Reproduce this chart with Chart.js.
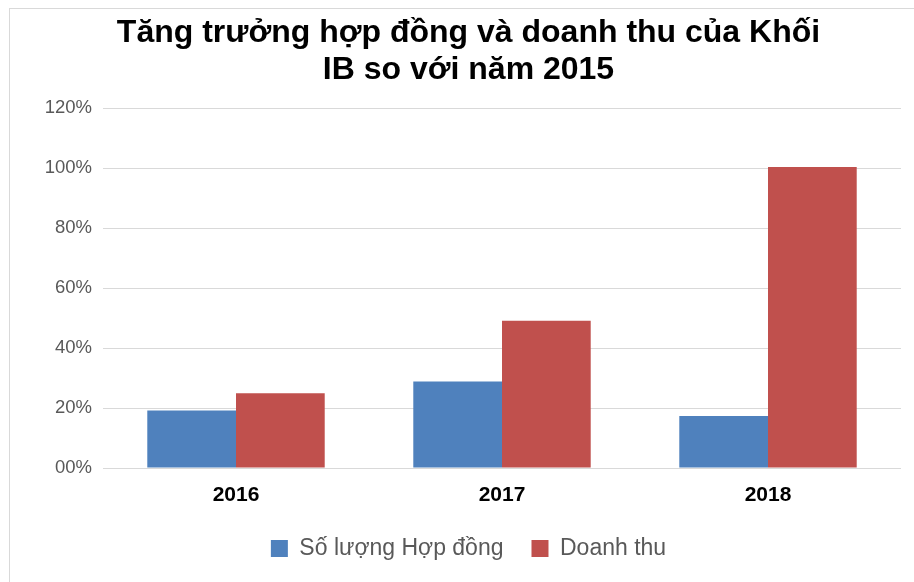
<!DOCTYPE html>
<html>
<head>
<meta charset="utf-8">
<script src="https://cdn.jsdelivr.net/npm/chart.js@4"></script>
<style>
  html, body { margin: 0; padding: 0; background: #fff; }
  #wrap { width: 914px; height: 582px; }
</style>
</head>
<body>
<div id="wrap"><canvas id="ctx" width="914" height="582"></canvas></div>
<script>
const years = ['2016', '2017', '2018'];
const soHopDong = [19.2, 28.8, 17.3];
const doanhThu = [24.9, 49.1, 100.3];
const yTicks = ['00%', '20%', '40%', '60%', '80%', '100%', '120%'];

// light frame around the whole chart
const frame = {
  id: 'frame',
  beforeDraw(chart) {
    const c = chart.ctx;
    c.save();
    c.fillStyle = '#fff';
    c.fillRect(0, 0, chart.width, chart.height);
    c.strokeStyle = '#d9d9d9';
    c.lineWidth = 1;
    c.strokeRect(9.5, 8.5, chart.width, chart.height);
    c.restore();
  }
};

var myChart = new Chart(document.getElementById('ctx'), {
  type: 'bar',
  data: {
    labels: years,
    datasets: [{
      label: 'Số lượng Hợp đồng',
      data: soHopDong,
      backgroundColor: '#4F81BD',
      categoryPercentage: 0.667,
      barPercentage: 1
    }, {
      label: 'Doanh thu',
      data: doanhThu,
      backgroundColor: '#C0504D',
      categoryPercentage: 0.667,
      barPercentage: 1
    }]
  },
  options: {
    responsive: false,
    animation: false,
    layout: { padding: { left: 36, right: 13, top: 15, bottom: 12 } },
    plugins: {
      title: {
        display: true,
        text: ['Tăng trưởng hợp đồng và doanh thu của Khối', 'IB so với năm 2015'],
        color: '#000',
        font: { family: 'Liberation Sans, Arial, sans-serif', size: 32, weight: 'bold', lineHeight: 1.15 },
        padding: { top: 0, bottom: 19.4 }
      },
      legend: {
        position: 'bottom',
        labels: {
          color: '#595959',
          font: { family: 'Liberation Sans, Arial, sans-serif', size: 23 },
          boxWidth: 17,
          boxHeight: 17,
          padding: 28
        }
      },
      tooltip: { enabled: false }
    },
    scales: {
      x: {
        afterFit(scale) { scale.height = 41; },
        grid: { display: false, drawTicks: false },
        border: { display: false },
        ticks: {
          color: '#000',
          font: { family: 'Liberation Sans, Arial, sans-serif', size: 21, weight: 'bold' },
          padding: 15
        }
      },
      y: {
        min: 0,
        max: 120,
        afterFit(scale) { scale.width = 67; },
        border: { display: false },
        grid: { color: '#d9d9d9', drawTicks: false },
        ticks: {
          stepSize: 20,
          color: '#595959',
          padding: 11,
          font: { family: 'Liberation Sans, Arial, sans-serif', size: 18.5 },
          callback: (v, i) => yTicks[i]
        }
      }
    }
  },
  plugins: [frame]
});
</script>
</body>
</html>
